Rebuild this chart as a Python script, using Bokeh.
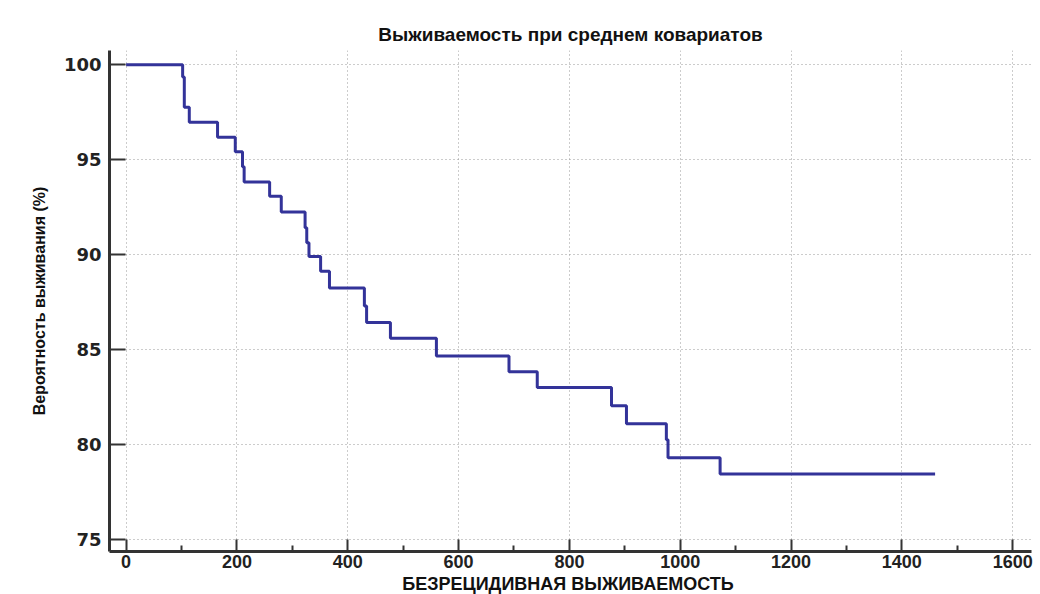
from bokeh.plotting import figure
from bokeh.models import Range1d, FixedTicker
from bokeh.embed import file_html
from bokeh.resources import INLINE

# Step-function data (time, survival %)
times = [0, 102, 105, 114, 165, 197, 210, 213, 259, 280, 323, 326, 330, 351, 367,
         430, 434, 477, 560, 691, 742, 876, 903, 975, 978, 1072, 1460]
survival = [100.0, 99.35, 97.76, 96.97, 96.18, 95.42, 94.63, 93.83, 93.08, 92.25, 91.42,
            90.63, 89.9, 89.13, 88.25, 87.3, 86.43, 85.6, 84.67, 83.83, 83.0, 82.05,
            81.1, 80.25, 79.3, 78.45, 78.45]

x_ticks = [0, 200, 400, 600, 800, 1000, 1200, 1400, 1600]
x_minor = [100, 300, 500, 700, 900, 1100, 1300, 1500]
y_ticks = [75, 80, 85, 90, 95, 100]

title_text = "Выживаемость при среднем ковариатов"
x_label = "БЕЗРЕЦИДИВНАЯ  ВЫЖИВАЕМОСТЬ"
y_label = "Вероятность выживания (%)"

p = figure(output_backend="svg", toolbar_location=None,
           x_range=Range1d(-30, 1634), y_range=Range1d(74.37, 100.75),
           frame_width=922, frame_height=501,
           min_border_left=109, min_border_top=50, min_border_right=6,
           min_border_bottom=4,
           title=title_text)

p.step(times, survival, mode="after", line_color="#333399", line_width=3)

p.title.align = "center"
p.title.text_font = "Liberation Sans"
p.title.text_font_size = "19px"
p.title.text_font_style = "bold"
p.title.text_color = "#111111"
p.title.offset = 0
p.title.standoff = 11

p.outline_line_color = None
p.background_fill_color = "white"

# x axis
xa = p.xaxis[0]
xa.ticker = FixedTicker(ticks=x_ticks, minor_ticks=x_minor)
xa.axis_line_color = "#333333"
xa.axis_line_width = 3
xa.major_tick_in = 12
xa.major_tick_out = 0
xa.major_tick_line_color = "#333333"
xa.major_tick_line_width = 2
xa.minor_tick_in = 6
xa.minor_tick_out = 0
xa.minor_tick_line_color = "#333333"
xa.minor_tick_line_width = 2
xa.major_label_text_font = "Liberation Sans"
xa.major_label_text_font_style = "bold"
xa.major_label_text_font_size = "18px"
xa.major_label_text_color = "#222222"
xa.major_label_standoff = 3
xa.axis_label = x_label
xa.axis_label_text_font = "Liberation Sans"
xa.axis_label_text_font_style = "bold"
xa.axis_label_text_font_size = "18px"
xa.axis_label_text_color = "#111111"
xa.axis_label_standoff = 3

# y axis
ya = p.yaxis[0]
ya.ticker = FixedTicker(ticks=y_ticks, minor_ticks=[])
ya.axis_line_color = "#333333"
ya.axis_line_width = 3
ya.major_tick_in = 16
ya.major_tick_out = 0
ya.major_tick_line_color = "#333333"
ya.major_tick_line_width = 2
ya.major_label_text_font = "DejaVu Sans"
ya.major_label_text_font_style = "bold"
ya.major_label_text_font_size = "18px"
ya.major_label_text_color = "#222222"
ya.major_label_standoff = 8
ya.axis_label = y_label
ya.axis_label_text_font = "Liberation Sans"
ya.axis_label_text_font_style = "bold"
ya.axis_label_text_font_size = "16px"
ya.axis_label_text_color = "#111111"
ya.axis_label_standoff = 13

# grid
p.xgrid.ticker = FixedTicker(ticks=x_ticks)
p.ygrid.ticker = FixedTicker(ticks=y_ticks)
for g in (p.xgrid[0], p.ygrid[0]):
    g.grid_line_color = "#999999"
    g.grid_line_dash = "1 3"
    g.grid_line_width = 1

open("out.html", "w").write(file_html(p, INLINE))
